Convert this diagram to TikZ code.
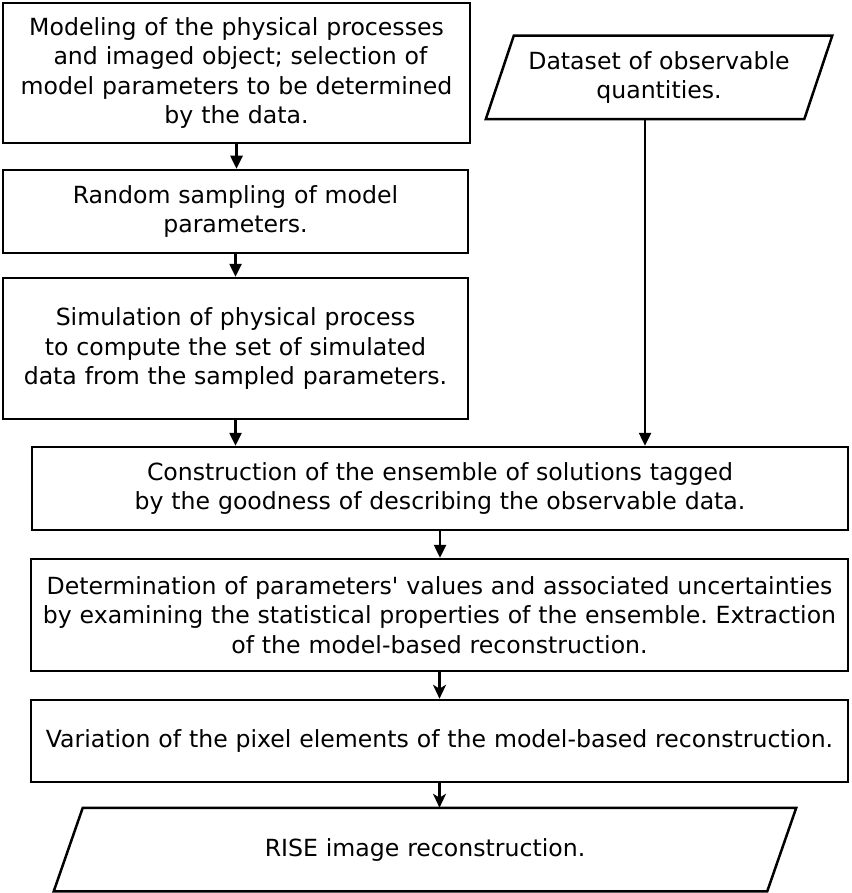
\documentclass[tikz,border=0pt]{standalone}
\usepackage{fontspec}
\setmainfont{DejaVu Sans}
\usetikzlibrary{arrows.meta}
\frenchspacing
\tikzset{
  stepbox/.style={draw,rectangle,inner sep=0pt,align=center},
  iobox/.style={rectangle,inner sep=0pt,align=center},
  flow/.style={-{Triangle[length=13pt,width=12pt]}},
  flowb/.style={-{Stealth[length=14pt,width=13pt,inset=4pt]}}
}
\newcommand{\slantframe}[2]{% node name, half slant
  \draw ([xshift=#2]#1.north west) -- ([xshift=#2]#1.north east)
    -- ([xshift=-#2]#1.south east) -- ([xshift=-#2]#1.south west) -- cycle;}
\begin{document}
\begin{tikzpicture}[x=1pt,y=-1pt,line width=2.5pt,font=\fontsize{23.6}{29.5}\selectfont]
  \useasboundingbox (0,0) rectangle (851,893);
  % left column: model and simulation
  \node[stepbox,minimum width=467pt,minimum height=140pt,text width=460pt] (model) at (236.5,73)
    {Modeling of the physical processes\\ \ and imaged object; selection of\\ model parameters to be determined\\ by the data.};
  \node[stepbox,minimum width=465pt,minimum height=83pt,text width=458pt] (sample) at (235.5,211.5)
    {Random sampling of model\\ parameters.};
  \node[stepbox,minimum width=465pt,minimum height=141pt,text width=458pt] (sim) at (235.5,348.5)
    {Simulation of physical process\\ to compute the set of simulated\\ data from the sampled parameters.};
  % right column: observed data
  \node[iobox,minimum width=316pt,minimum height=81pt,text width=300pt] (data) at (659,77.5)
    {Dataset of observable\\ quantities.};
  \slantframe{data}{14pt}
  % full-width steps
  \node[stepbox,minimum width=816pt,minimum height=83pt,text width=810pt] (ens) at (440,488.5)
    {Construction of the ensemble of solutions tagged\\ by the goodness of describing the observable data.};
  \node[stepbox,minimum width=817pt,minimum height=112pt,text width=812pt] (est) at (439.5,615)
    {Determination of parameters\textquotesingle{} values and associated uncertainties\\ by examining the statistical properties of the ensemble. Extraction\\ of the model-based reconstruction.};
  \node[stepbox,minimum width=817pt,minimum height=82pt,text width=812pt] (var) at (439.5,741)
    {Variation of the pixel elements of the model-based reconstruction.};
  \node[iobox,minimum width=711pt,minimum height=81pt,text width=690pt] (rise) at (425,849.5)
    {RISE image reconstruction.};
  \slantframe{rise}{14.5pt}
  % connectors
  \draw[flow] (model.south) -- (model.south |- sample.north);
  \draw[flow] (sample.south) -- (sample.south |- sim.north);
  \draw[flow] (sim.south) -- (sim.south |- ens.north);
  \draw[flow] ([xshift=-14pt]data.south) -- ([xshift=-14pt]data.south |- ens.north);
  \draw[flow] (ens.south) -- (ens.south |- est.north);
  \draw[flowb] (est.south) -- (est.south |- var.north);
  \draw[flowb] (var.south) -- (var.south |- rise.north);
\end{tikzpicture}
\end{document}
